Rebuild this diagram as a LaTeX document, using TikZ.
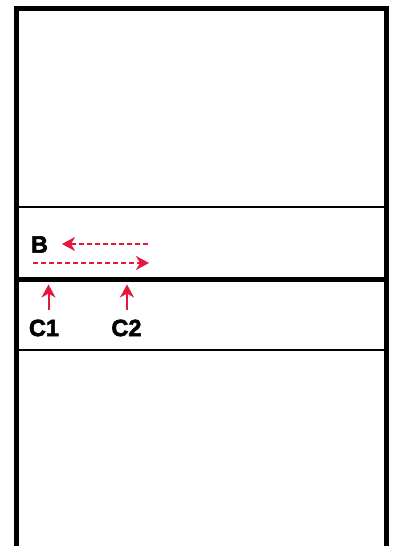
\documentclass[tikz,border=0pt]{standalone}
\usepackage{fontspec}
\setmainfont{Liberation Sans}
\newfontfamily\heavyfont[FakeBold=2.5]{Liberation Sans Bold}
\usetikzlibrary{arrows.meta}
\definecolor{arrowred}{RGB}{228,24,60}
\tikzset{
  frameline/.style={line width=5pt, line join=miter},
  thinline/.style={line width=2pt},
  thickline/.style={line width=5pt},
  lbl/.style={inner sep=0pt, font=\heavyfont\fontsize{23.5}{25}\selectfont},
  redarrow/.style={draw=arrowred, line width=2pt, -{Stealth[length=13pt,width=14pt,inset=4pt]}},
  dasharrow/.style={redarrow, line width=1.7pt, dash pattern=on 5pt off 3pt},
}
\begin{document}
\begin{tikzpicture}[x=1pt,y=1pt]
\useasboundingbox (0,0) rectangle (393,-546);
\fill[white] (0,0) rectangle (393,-546);
% frame
\draw[frameline] (16.5,-546) -- (16.5,-8.5) -- (386,-8.5) -- (386,-546);
\draw[thinline] (16.5,-207) -- (386,-207);
\draw[thickline] (16.5,-279.5) -- (386,-279.5);
\draw[thinline] (16.5,-349.5) -- (386,-349.5);
% labels
\node[lbl] (B) at (39.5,-244.5) {B};
\node[lbl] (C1) at (44,-328) {C1};
\node[lbl] (C2) at (126.5,-328) {C2};
% arrow end points
\coordinate (ua) at (148,-244);
\coordinate (ub) at (62,-244);
\coordinate (la) at (33,-263);
\coordinate (lb) at (149,-263);
\coordinate (c1a) at (48.5,-310);
\coordinate (c1b) at (48.5,-284.5);
\coordinate (c2a) at (127,-310);
\coordinate (c2b) at (127,-284.5);
\draw[dasharrow] (ua) -- (ub);
\draw[dasharrow] (la) -- (lb);
\draw[redarrow] (c1a) -- (c1b);
\draw[redarrow] (c2a) -- (c2b);
\end{tikzpicture}
\end{document}
